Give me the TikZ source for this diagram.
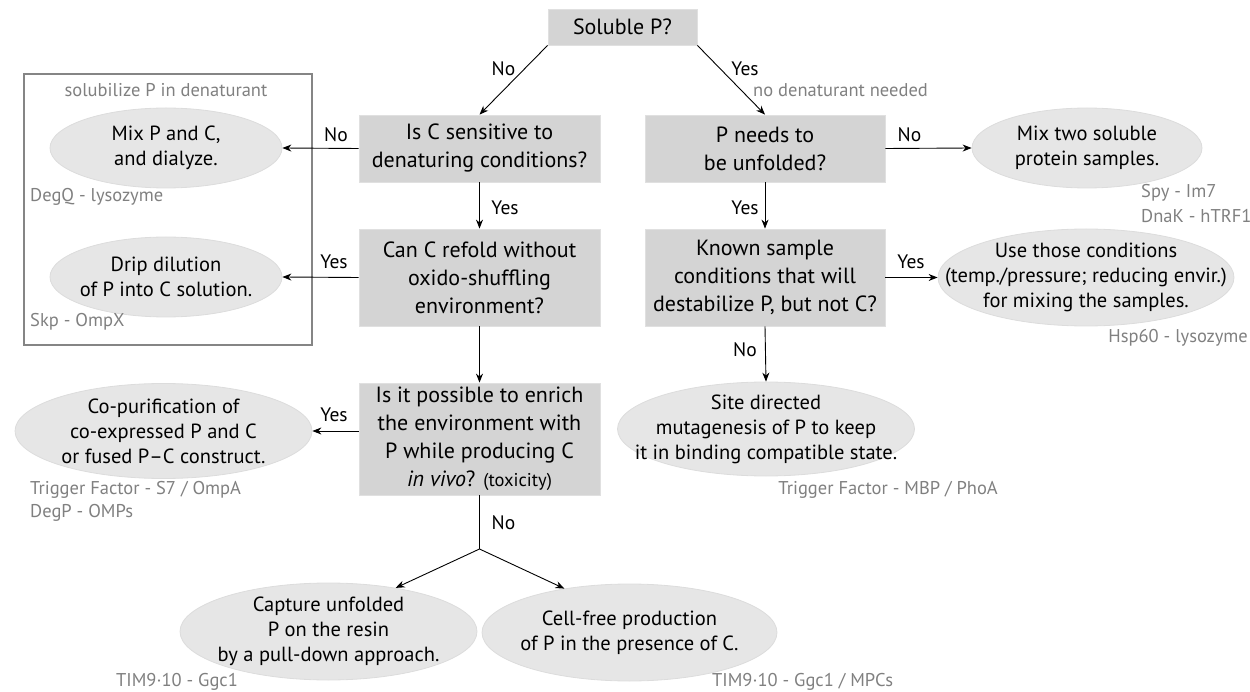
\documentclass[tikz,border=0pt]{standalone}
\usepackage{fontspec}
\setmainfont{PT Sans}
\usetikzlibrary{shapes.geometric,arrows.meta}
\definecolor{boxfill}{HTML}{D4D4D4}
\definecolor{boxline}{HTML}{E0E0E0}
\definecolor{ellfill}{HTML}{E6E6E6}
\definecolor{ellline}{HTML}{DCDCDC}
\definecolor{notegray}{HTML}{808080}
\definecolor{framegray}{HTML}{858585}
\begin{document}
\begin{tikzpicture}[x=1pt,y=-1pt,
 qbox/.style={rectangle,fill=boxfill,draw=boxline,line width=0.8pt,align=center,inner sep=0pt,font=\fontsize{22}{28}\selectfont},
 ans/.style={ellipse,fill=ellfill,draw=ellline,line width=0.8pt,align=center,inner xsep=-70pt,inner ysep=-20pt,font=\fontsize{20.5}{25}\selectfont},
 note/.style={text=notegray,font=\fontsize{18.5}{23}\selectfont,inner sep=0pt,anchor=west,align=left},
 lab/.style={font=\fontsize{19.5}{22}\selectfont,inner sep=0pt},
 arr/.style={-{Stealth[length=9pt,width=7pt]},line width=0.9pt}
]
\useasboundingbox (0,0) rectangle (1250,692);

% frame
\node[draw=framegray,line width=1.5pt,minimum width=288pt,minimum height=271pt,inner sep=0pt] (frame) at (168,209.5) {};
\node[note,anchor=center] (frametxt) at (166,90) {solubilize P in denaturant};

% question boxes
\node[qbox,minimum width=149pt,minimum height=36pt] (sol) at (622.5,27) {Soluble P?};
\node[qbox,minimum width=241pt,minimum height=67pt] (sens) at (479.5,148.5) {Is C sensitive to\\denaturing conditions?};
\node[qbox,minimum width=240pt,minimum height=67pt] (unf) at (765,148.5) {P needs to\\be unfolded?};
\node[qbox,minimum width=241pt,minimum height=97pt] (ref) at (479.5,277.5) {Can C refold without\\oxido-shuffling\\environment?};
\node[qbox,minimum width=240pt,minimum height=97pt] (known) at (765,277.5) {Known sample\\conditions that will\\destabilize P, but not C?};
\node[qbox,minimum width=241pt,minimum height=112pt] (poss) at (479.5,439) {Is it possible to enrich\\the environment with\\P while producing C\\\textit{in vivo}? {\fontsize{18.5}{28}\selectfont(toxicity)}};

% answer ellipses
\node[ans,minimum width=232pt,minimum height=80pt] (mix) at (166,148) {Mix P and C,\\and dialyze.};
\node[ans,minimum width=232pt,minimum height=80pt] (drip) at (166,277) {Drip dilution\\of P into C solution.};
\node[ans,minimum width=230pt,minimum height=80pt] (mixtwo) at (1087,148) {Mix two soluble\\protein samples.};
\node[ans,minimum width=296pt,minimum height=97pt] (use) at (1086,277.5) {Use those conditions\\(temp./pressure; reducing envir.)\\for mixing the samples.};
\node[ans,minimum width=297pt,minimum height=94pt] (site) at (766,429) {Site directed\\mutagenesis of P to keep\\it in binding compatible state.};
\node[ans,minimum width=297pt,minimum height=95pt] (copur) at (163.5,431) {Co-purification of\\co-expressed P and C\\or fused P--C construct.};
\node[ans,minimum width=297pt,minimum height=97pt] (cap) at (328.5,631.5) {Capture unfolded\\P on the resin\\by a pull-down approach.};
\node[ans,minimum width=295pt,minimum height=97pt] (cell) at (629.5,632.5) {Cell-free production\\of P in the presence of C.};

% notes
\node[note] (n1) at (30,197) {DegQ - lysozyme};
\node[note] (n2) at (30,322) {Skp - OmpX};
\node[note] (n3) at (1141,193) {Spy - Im7};
\node[note] (n4) at (1141,216) {DnaK - hTRF1};
\node[note,anchor=east] (n5) at (1248,338) {Hsp60 - lysozyme};
\node[note] (n6) at (753,90) {no denaturant needed};
\node[note,anchor=east] (n7) at (998,490) {Trigger Factor - MBP / PhoA};
\node[note] (n8) at (30,490) {Trigger Factor - S7 / OmpA};
\node[note] (n9) at (30,513) {DegP - OMPs};
\node[note] (n10) at (116,682) {TIM9·10 - Ggc1};
\node[note] (n11) at (712,682) {TIM9·10 - Ggc1 / MPCs};

% labels
\node[lab] (l1) at (503.5,69) {No};
\node[lab] (l2) at (745,69) {Yes};
\node[lab] (l3) at (505,208) {Yes};
\node[lab] (l4) at (745,208) {Yes};
\node[lab] (l5) at (336,135) {No};
\node[lab] (l6) at (334,262) {Yes};
\node[lab] (l7) at (909.5,135) {No};
\node[lab] (l8) at (911,262) {Yes};
\node[lab] (l9) at (745,350) {No};
\node[lab] (l10) at (334,415) {Yes};
\node[lab] (l11) at (503.5,523) {No};

% connectors
\coordinate (j) at (479.5,549);
\draw[arr] (sol.south west) -- (sens.north);
\draw[arr] (sol.south east) -- (unf.north);
\draw[arr] (sens.south) -- (ref.north);
\draw[arr] (unf.south) -- (known.north);
\draw[arr] (ref.south) -- (poss.north);
\draw[arr] (known.south) -- (site.north);
\draw[arr] (sens.west) -- (mix.east);
\draw[arr] (ref.west) -- (drip.east);
\draw[arr] (copur.east -| poss.west) -- (copur.east);
\draw[arr] (unf.east) -- (mixtwo.west);
\draw[arr] (known.east) -- (use.west);
\draw[line width=0.9pt] (poss.south) -- (j);
\draw[arr] (j) -- (cap.33);
\draw[arr] (j) -- (cell.146);
\end{tikzpicture}
\end{document}
